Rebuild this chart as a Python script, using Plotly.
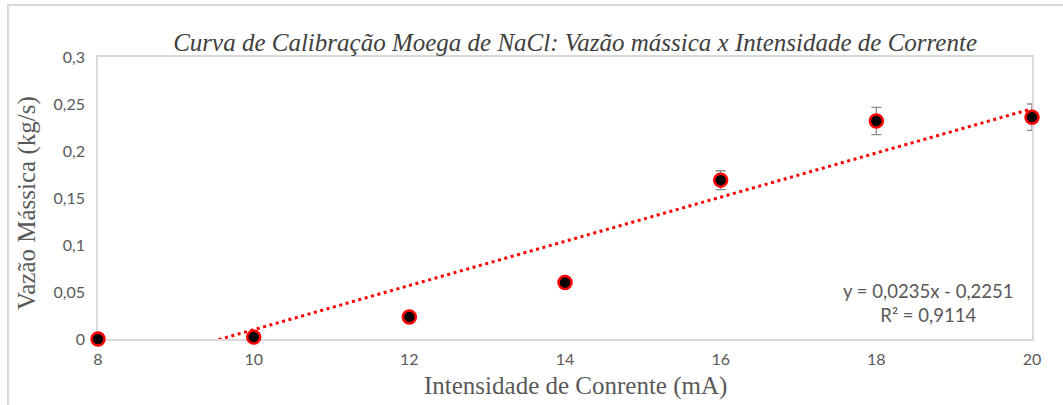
import plotly.graph_objects as go

corrente = [8, 10, 12, 14, 16, 18, 20]
vazao = [0.0, 0.002, 0.0235, 0.060, 0.169, 0.232, 0.236]
erro = [0.0, 0.0, 0.0, 0.0, 0.010, 0.0145, 0.014]
slope = 0.0235
intercept = -0.2251
r2_text = "R² = 0,9114"
eq_text = "y = 0,0235x - 0,2251"

trend_x = [8, 20]
trend_y = [slope * x + intercept for x in trend_x]

fig = go.Figure()
fig.add_trace(go.Scatter(
    x=trend_x, y=trend_y, mode="lines",
    line=dict(color="#ff0000", width=3, dash="3px,3.6px"),
    hoverinfo="skip", showlegend=False,
))
fig.add_trace(go.Scatter(
    x=corrente, y=vazao, mode="markers",
    marker=dict(size=13, color="#000000", line=dict(color="#ff0000", width=2.5)),
    error_y=dict(type="data", array=erro, visible=True, color="#8c8c8c",
                 thickness=1.3, width=5),
    cliponaxis=False, showlegend=False,
))

axis_font = dict(family="Lato, Open Sans, sans-serif", size=16, color="#595959")
title_font = dict(family="Liberation Serif, Times New Roman, serif", size=25, color="#595959")

fig.update_layout(
    width=1063, height=405,
    margin=dict(l=98, r=31, t=57, b=66),
    paper_bgcolor="white", plot_bgcolor="white",
    separators=",.",
    title=dict(
        text="<i>Curva de Calibração Moega de NaCl: Vazão mássica x Intensidade de Corrente</i>",
        font=dict(family="Liberation Serif, Times New Roman, serif", size=25, color="#404040"),
        x=0.541, xanchor="center", y=0.895, yanchor="middle",
    ),
    xaxis=dict(
        range=[8, 20], tickvals=[8, 10, 12, 14, 16, 18, 20],
        showgrid=False, zeroline=False, layer="below traces",
        showline=True, linecolor="#d9d9d9", linewidth=1.5, mirror=True,
        ticks="", tickfont=axis_font, ticklabelstandoff=5,
    ),
    yaxis=dict(
        range=[0, 0.3], tickvals=[0, 0.05, 0.1, 0.15, 0.2, 0.25, 0.3],
        showgrid=False, zeroline=False, layer="below traces",
        showline=True, linecolor="#d9d9d9", linewidth=1.5, mirror=True,
        ticks="", tickfont=axis_font, ticklabelstandoff=8,
    ),
    annotations=[
        dict(text=eq_text + "<br>" + r2_text, xref="paper", yref="paper",
             x=0.889, y=0.129, xanchor="center", yanchor="middle", showarrow=False,
             align="center", font=dict(family="Lato, Open Sans, sans-serif", size=18.5, color="#595959")),
        dict(text="Intensidade de Conrente (mA)", xref="paper", yref="paper",
             x=0.511, y=-0.168, xanchor="center", yanchor="middle", showarrow=False,
             borderpad=0, font=title_font),
        dict(text="Vazão Mássica (kg/s)", xref="paper", yref="paper", textangle=-90,
             x=-0.076, y=0.482, xanchor="center", yanchor="middle", showarrow=False,
             font=title_font),
    ],
    shapes=[
        dict(type="rect", xref="paper", yref="paper", x0=-0.0964, x1=1.2, y0=-0.4, y1=1.1844,
             line=dict(color="#d9d9d9", width=2), fillcolor="rgba(0,0,0,0)", layer="below"),
    ],
)

fig.write_html("out.html", config={"displayModeBar": False},
               post_script="document.body.style.margin='0';")
